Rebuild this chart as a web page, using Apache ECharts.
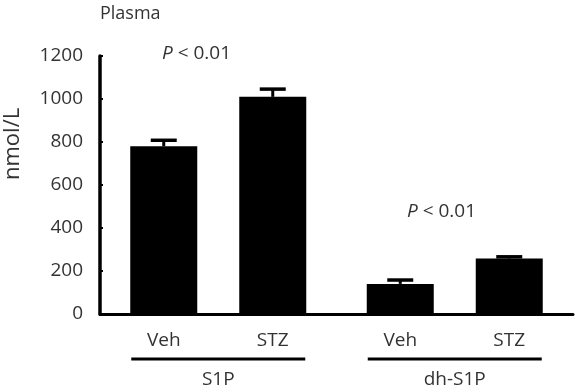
<!DOCTYPE html>
<html>
<head>
<meta charset="utf-8">
<script src="https://cdn.jsdelivr.net/npm/echarts@6/dist/echarts.min.js"></script>
<style>html,body{margin:0;padding:0;background:#fff}#c{width:575px;height:392px}</style>
</head>
<body>
<div id="c"></div>
<script>
// ---- data ----
const categories = ['S1P', 'dh-S1P'];
const treatments = ['Veh', 'STZ'];
const vehMean = [780, 140];
const vehErr = [28, 18];
const stzMean = [1010, 258];
const stzErr = [36, 8];
const yTicks = [0, 200, 400, 600, 800, 1000, 1200];
const pTexts = ['P < 0.01', 'P < 0.01'];

const FONT = 'Open Sans';
const TXT = '#333';
const BAR_W = 67, GAP = 42;

const chart = echarts.init(document.getElementById('c'));

function errSeries(means, errs, sign) {
  return {
    type: 'custom',
    clip: false,
    z: 1,
    data: means.map((m, i) => [i, m, errs[i]]),
    renderItem: function (params, api) {
      const off = sign * (BAR_W + GAP) / 2;
      const p0 = api.coord([api.value(0), api.value(1)]);
      const p1 = api.coord([api.value(0), api.value(1) + api.value(2)]);
      const x = p0[0] + off;
      return {
        type: 'group',
        children: [
          { type: 'line', shape: { x1: x, y1: p0[1], x2: x, y2: p1[1] }, style: { stroke: '#000', lineWidth: 3 } },
          { type: 'line', shape: { x1: x - 13, y1: p1[1], x2: x + 13, y2: p1[1] }, style: { stroke: '#000', lineWidth: 3.5 } }
        ]
      };
    }
  };
}

const ptStyle = (txt) => ({
  text: '{i|' + txt.slice(0, 1) + '}' + txt.slice(1),
  fontSize: 19, fontFamily: FONT, fill: TXT,
  rich: { i: { fontStyle: 'italic', fontSize: 19, fontFamily: FONT, fill: TXT } }
});

chart.setOption({
  animation: false,
  textStyle: { fontFamily: FONT },
  grid: { left: 100, right: 2, top: 56, bottom: 78 },
  xAxis: {
    type: 'category',
    data: categories,
    axisLine: { lineStyle: { color: '#000', width: 3 } },
    axisTick: { show: false },
    axisLabel: { margin: 56, fontSize: 19, color: TXT, fontFamily: FONT }
  },
  yAxis: {
    type: 'value',
    min: 0, max: 1200, interval: 200,
    axisLine: { show: true, lineStyle: { color: '#000', width: 3.5 } },
    axisTick: { show: true, inside: true, length: 3, lineStyle: { color: '#000', width: 2 } },
    splitLine: { show: false },
    axisLabel: { margin: 17, fontSize: 19, color: TXT, fontFamily: FONT,
      formatter: v => yTicks.includes(v) ? String(v) : '' }
  },
  series: [
    {
      name: treatments[0], type: 'bar', data: vehMean, barWidth: BAR_W, barGap: (GAP / BAR_W * 100) + '%',
      itemStyle: { color: '#000' },
      label: { show: true, position: 'bottom', distance: 17, formatter: '{a}', fontSize: 19, color: TXT, fontFamily: FONT }
    },
    {
      name: treatments[1], type: 'bar', data: stzMean, barWidth: BAR_W,
      itemStyle: { color: '#000' },
      label: { show: true, position: 'bottom', distance: 17, formatter: '{a}', fontSize: 19, color: TXT, fontFamily: FONT }
    },
    errSeries(vehMean, vehErr, -1),
    errSeries(stzMean, stzErr, 1),
    {
      type: 'custom',
      clip: false,
      silent: true,
      data: categories.map((c, i) => [i, 0]),
      renderItem: function (params, api) {
        const p = api.coord([api.value(0), 0]);
        return { type: 'line', shape: { x1: p[0] - 87, y1: p[1] + 45, x2: p[0] + 87, y2: p[1] + 45 }, style: { stroke: '#000', lineWidth: 3 } };
      }
    }
  ],
  graphic: [
    { type: 'text', left: 100, top: 5, style: { text: 'Plasma', fontSize: 18, fontFamily: FONT, fill: TXT } },
    { type: 'text', left: 162, top: 44, style: ptStyle(pTexts[0]) },
    { type: 'text', left: 407, top: 202, style: ptStyle(pTexts[1]) },
    { type: 'text', x: 2, y: 180, rotation: Math.PI / 2, style: { text: 'nmol/L', fontSize: 22, fontFamily: FONT, fill: TXT } }
  ]
});
</script>
</body>
</html>
